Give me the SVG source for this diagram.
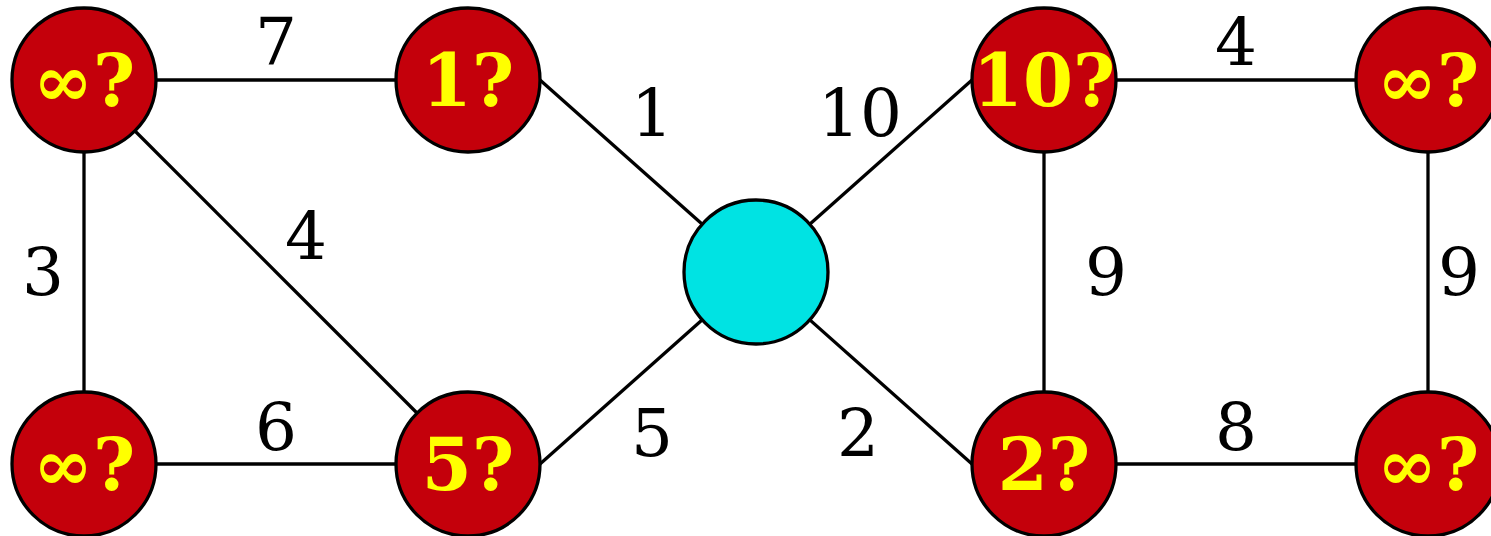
<svg xmlns="http://www.w3.org/2000/svg" width="1491" height="536" viewBox="0 0 1491 536">
<style>
.edge{stroke:#000;stroke-width:3.3;fill:none}
.node{fill:#c4000b;stroke:#000;stroke-width:3.3}
.src{fill:#00e3e3;stroke:#000;stroke-width:3.3}
.nl{font-family:"DejaVu Serif","Liberation Serif",serif;font-weight:bold;font-size:72px;fill:#ffff00;text-anchor:middle}
.el{font-family:"DejaVu Serif","Liberation Serif",serif;font-size:66px;fill:#000;text-anchor:middle}
</style>
<rect width="1491" height="536" fill="#fff"/>
<g id="connectors">
<line class="edge" x1="84" y1="80" x2="468" y2="80"/>
<line class="edge" x1="84" y1="80" x2="84" y2="464"/>
<line class="edge" x1="84" y1="80" x2="468" y2="464"/>
<line class="edge" x1="84" y1="464" x2="468" y2="464"/>
<line class="edge" x1="540" y1="80" x2="756" y2="272"/>
<line class="edge" x1="540" y1="464" x2="756" y2="272"/>
<line class="edge" x1="972" y1="80" x2="756" y2="272"/>
<line class="edge" x1="972" y1="464" x2="756" y2="272"/>
<line class="edge" x1="1044" y1="80" x2="1428" y2="80"/>
<line class="edge" x1="1044" y1="80" x2="1044" y2="464"/>
<line class="edge" x1="1428" y1="80" x2="1428" y2="464"/>
<line class="edge" x1="1044" y1="464" x2="1428" y2="464"/>
<text class="el" x="276" y="65">7</text>
<text class="el" x="43" y="295">3</text>
<text class="el" x="306" y="259">4</text>
<text class="el" x="276" y="450">6</text>
<text class="el" x="652" y="136">1</text>
<text class="el" x="860" y="136">10</text>
<text class="el" x="652" y="456">5</text>
<text class="el" x="858" y="456">2</text>
<text class="el" x="1236" y="65">4</text>
<text class="el" x="1106" y="295">9</text>
<text class="el" x="1459" y="295">9</text>
<text class="el" x="1236" y="450">8</text>
</g>
<g id="n-a"><circle class="node" cx="84" cy="80" r="72"/><text class="nl" x="84" y="106">∞?</text></g>
<g id="n-b"><circle class="node" cx="468" cy="80" r="72"/><text class="nl" x="468" y="106">1?</text></g>
<g id="n-c"><circle class="node" cx="1044" cy="80" r="72"/><text class="nl" x="1044" y="106">10?</text></g>
<g id="n-d"><circle class="node" cx="1428" cy="80" r="72"/><text class="nl" x="1428" y="106">∞?</text></g>
<g id="n-e"><circle class="node" cx="84" cy="464" r="72"/><text class="nl" x="84" y="490">∞?</text></g>
<g id="n-f"><circle class="node" cx="468" cy="464" r="72"/><text class="nl" x="468" y="490">5?</text></g>
<g id="n-g"><circle class="node" cx="1044" cy="464" r="72"/><text class="nl" x="1044" y="490">2?</text></g>
<g id="n-h"><circle class="node" cx="1428" cy="464" r="72"/><text class="nl" x="1428" y="490">∞?</text></g>
<g id="n-src"><circle class="src" cx="756" cy="272" r="72"/></g>
</svg>
